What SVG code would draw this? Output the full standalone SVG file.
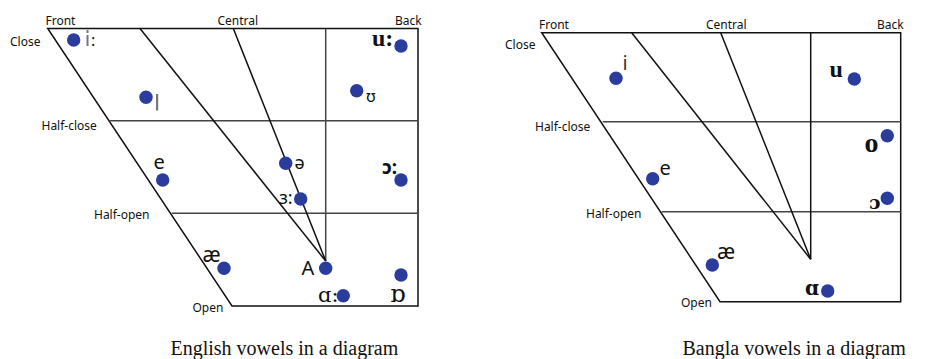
<svg xmlns="http://www.w3.org/2000/svg" width="930" height="359" viewBox="0 0 930 359">
<style>
.ln{stroke:#111;stroke-width:1.5;fill:none}
.hl{stroke:#444;stroke-width:1.5;fill:none}
.lbl{font-family:"Noto Sans","Open Sans",sans-serif;font-size:12px;fill:#111}
.dot{fill:#2a3c9c}
.ipa{font-family:"Noto Sans","DejaVu Sans",sans-serif;font-size:20px;fill:#111}
.ipas{font-family:"DejaVu Serif","Liberation Serif",serif;font-size:22px;fill:#111}
.ipab{font-family:"Liberation Serif","DejaVu Serif",serif;font-weight:bold;font-size:24px;fill:#111}
.cap{font-family:"Liberation Serif","Times New Roman",serif;font-size:20px;fill:#111}
</style>
<rect width="930" height="359" fill="#fff"/>

<!-- English diagram -->
<g id="english-chart">
  <g id="en-frame">
    <path class="ln" d="M47.7,28.5 H418 V306 H232 Z"/>
    <line class="hl" x1="108.5" y1="120.7" x2="418" y2="120.7"/>
    <line class="hl" x1="171.7" y1="213.3" x2="418" y2="213.3"/>
    <line class="hl" x1="325.7" y1="28.5" x2="325.7" y2="261"/>
    <line class="ln" x1="140" y1="28.5" x2="325.7" y2="261"/>
    <line class="ln" x1="233.3" y1="28.5" x2="325.7" y2="261"/>
  </g>
  <g id="en-labels">
    <text class="lbl" x="45.5" y="25">Front</text>
    <text class="lbl" x="217.5" y="25">Central</text>
    <text class="lbl" x="395" y="25">Back</text>
    <text class="lbl" x="10" y="46">Close</text>
    <text class="lbl" x="41.5" y="130">Half-close</text>
    <text class="lbl" x="94" y="219">Half-open</text>
    <text class="lbl" x="192.5" y="312">Open</text>
  </g>
  <g id="en-i"><circle class="dot" cx="73.7" cy="40" r="6.7"/><rect x="86.5" y="30" width="2" height="3" fill="#777"/><rect x="86.5" y="35" width="2" height="11" fill="#777"/><text class="ipa" x="91" y="46" style="font-size:16px">:</text></g>
  <g id="en-ih"><circle class="dot" cx="146" cy="97.3" r="6.7"/><rect x="156" y="94" width="2.2" height="16.5" fill="#777"/></g>
  <g id="en-u"><circle class="dot" cx="401" cy="46" r="6.7"/><text class="ipab" x="372" y="46">u:</text></g>
  <g id="en-uh"><circle class="dot" cx="356.7" cy="90.7" r="6.7"/><text class="ipa" x="366" y="102" style="font-size:16px">ʊ</text></g>
  <g id="en-e"><circle class="dot" cx="162.7" cy="180" r="6.7"/><text class="ipa" x="153.5" y="169">e</text></g>
  <g id="en-schwa"><circle class="dot" cx="285.7" cy="163.3" r="6.7"/><text class="ipa" x="294.5" y="169" style="font-size:18px">ə</text></g>
  <g id="en-o"><circle class="dot" cx="401" cy="180" r="6.7"/><text class="ipa" x="382" y="174" style="font-size:19px;font-weight:bold">ɔ:</text></g>
  <g id="en-er"><circle class="dot" cx="300.7" cy="199" r="6.7"/><text class="ipa" x="279" y="204" style="font-size:18px">ɜ:</text></g>
  <g id="en-ae"><circle class="dot" cx="224" cy="268.3" r="6.7"/><text class="ipa" x="202.5" y="262" style="font-size:21px">æ</text></g>
  <g id="en-A"><circle class="dot" cx="325.7" cy="268.3" r="6.7"/><text class="ipa" x="301.5" y="275">A</text></g>
  <g id="en-oh"><circle class="dot" cx="401" cy="275" r="6.7"/><text class="ipas" x="390" y="302" style="font-size:24px">ɒ</text></g>
  <g id="en-aa"><circle class="dot" cx="343.3" cy="295.7" r="6.7"/><text class="ipas" x="318" y="302" style="font-size:21px">ɑ:</text></g>
  <text class="cap" x="170.5" y="355">English vowels in a diagram</text>
</g>

<!-- Bangla diagram -->
<g id="bangla-chart">
  <g id="bn-frame">
    <path class="ln" d="M541.7,32.7 H900.7 V301.7 H720 Z"/>
    <line class="hl" x1="602.7" y1="121.7" x2="900.7" y2="121.7"/>
    <line class="hl" x1="661.7" y1="211.7" x2="900.7" y2="211.7"/>
    <line class="ln" x1="810.7" y1="32.7" x2="810.7" y2="259.3"/>
    <line class="ln" x1="631.7" y1="32.7" x2="810.7" y2="259.3"/>
    <line class="ln" x1="720.7" y1="32.7" x2="810.7" y2="259.3"/>
  </g>
  <g id="bn-labels">
    <text class="lbl" x="539" y="29">Front</text>
    <text class="lbl" x="706" y="29">Central</text>
    <text class="lbl" x="877" y="29">Back</text>
    <text class="lbl" x="505" y="49">Close</text>
    <text class="lbl" x="535" y="131">Half-close</text>
    <text class="lbl" x="586" y="218">Half-open</text>
    <text class="lbl" x="681" y="306.5">Open</text>
  </g>
  <g id="bn-i"><circle class="dot" cx="616" cy="78.3" r="6.7"/><text class="ipa" x="622.5" y="70" style="font-size:20px;fill:#333">i</text></g>
  <g id="bn-u"><circle class="dot" cx="854.3" cy="79" r="6.7"/><text class="ipab" x="829.5" y="77">u</text></g>
  <g id="bn-o"><circle class="dot" cx="887.3" cy="135.7" r="6.7"/><text class="ipab" x="864.5" y="152" style="font-size:28px">o</text></g>
  <g id="bn-e"><circle class="dot" cx="652.7" cy="178.8" r="6.7"/><text class="ipa" x="659.5" y="175">e</text></g>
  <g id="bn-oh"><circle class="dot" cx="887.3" cy="198.3" r="6.7"/><text class="ipas" x="869" y="209" style="font-size:19px;font-weight:bold">ɔ</text></g>
  <g id="bn-ae"><circle class="dot" cx="712.3" cy="265" r="6.7"/><text class="ipa" x="717" y="259" style="font-size:21px">æ</text></g>
  <g id="bn-a"><circle class="dot" cx="827.7" cy="291" r="6.7"/><text class="ipas" x="805" y="295" style="font-size:20px;font-weight:bold">ɑ</text></g>
  <text class="cap" x="682.5" y="355">Bangla vowels in a diagram</text>
</g>
</svg>
